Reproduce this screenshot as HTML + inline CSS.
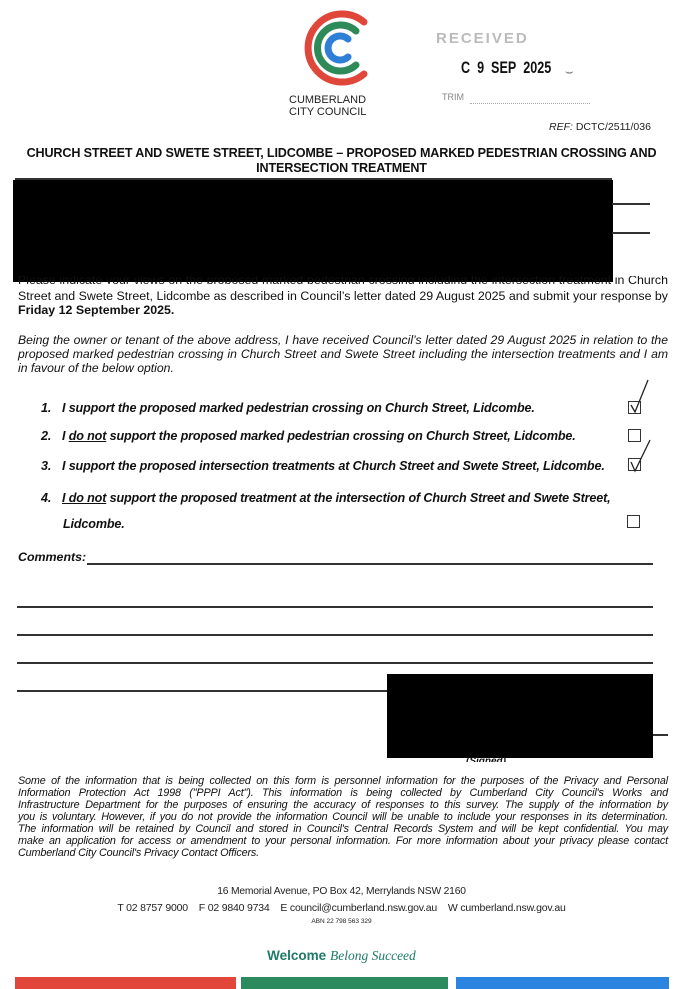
<!DOCTYPE html>
<html><head><meta charset="utf-8">
<style>
html,body{margin:0;padding:0;background:#fff;}
body{width:683px;height:989px;position:relative;overflow:hidden;font-family:"Liberation Sans",Arial,sans-serif;color:#111;}
.a{position:absolute;white-space:nowrap;}
.ln{position:absolute;height:1.5px;background:#333;}
.bi{font-weight:bold;font-style:italic;font-size:12.6px;letter-spacing:-0.15px;}
.cb{position:absolute;width:11px;height:11px;border:1.3px solid #333;}
.j{position:absolute;left:18px;width:650px;white-space:nowrap;text-align:justify;text-align-last:justify;}
.p1{font-size:12.4px;}
.p2{font-size:12.2px;font-style:italic;}
.pv{font-size:10.8px;font-style:italic;letter-spacing:-0.15px;}
</style></head><body>

<svg class="a" style="left:290px;top:6px" width="90" height="85" viewBox="0 0 90 85">
  <path d="M74 68 A34 34 0 1 1 74 16" fill="none" stroke="#e0473a" stroke-width="7" stroke-linecap="round"/>
  <path d="M66 59 A23 23 0 1 1 66 25" fill="none" stroke="#2e8a58" stroke-width="7" stroke-linecap="round"/>
  <path d="M58 51 A12 12 0 1 1 58 33" fill="none" stroke="#2f7fd6" stroke-width="7" stroke-linecap="round"/>
</svg>
<div class="a" style="left:289px;top:95px;font-size:11px;line-height:11.5px;color:#222">CUMBERLAND<br>CITY COUNCIL</div>

<div class="a" style="left:436px;top:30px;font-size:15px;font-weight:bold;color:#bbb;letter-spacing:2px">RECEIVED</div>
<div class="a" style="left:461px;top:58px;font-size:17px;font-weight:bold;color:#111;transform:scaleX(0.74);transform-origin:left">C&nbsp; 9&nbsp; SEP&nbsp; 2025</div>
<div class="a" style="left:565px;top:64px;font-size:13px;color:#666">&#x2323;</div>
<div class="a" style="left:442px;top:92px;font-size:9px;color:#888">TRIM</div>
<div class="a" style="left:470px;top:103px;width:120px;border-top:1px dotted #aaa"></div>
<div class="a" style="left:549px;top:121px;font-size:10.5px;color:#222"><i>REF:</i> DCTC/2511/036</div>

<div class="a" style="left:0;width:683px;top:146px;text-align:center;font-size:12.6px;font-weight:bold;line-height:15px;letter-spacing:-0.15px">CHURCH STREET AND SWETE STREET, LIDCOMBE – PROPOSED MARKED PEDESTRIAN CROSSING AND<br>INTERSECTION TREATMENT</div>
<div class="ln" style="left:15px;top:178px;width:597px"></div>

<div class="a" style="left:13px;top:180px;width:600px;height:102px;background:#000"></div>
<div class="ln" style="left:612px;top:203px;width:38px"></div>
<div class="ln" style="left:612px;top:232px;width:38px"></div>

<div style="position:absolute;left:0;top:276px;width:683px;height:8px;overflow:hidden"><div class="j p1" style="top:-3px">Please indicate your views on the proposed marked pedestrian crossing including the intersection treatment in Church</div></div>
<div class="j p1" style="top:289px">Street and Swete Street, Lidcombe as described in Council’s letter dated 29 August 2025 and submit your response by</div>
<div class="a p1" style="left:18px;top:303px;font-weight:bold">Friday 12 September 2025.</div>

<div class="j p2" style="top:333px">Being the owner or tenant of the above address, I have received Council’s letter dated 29 August 2025 in relation to the</div>
<div class="j p2" style="top:347px">proposed marked pedestrian crossing in Church Street and Swete Street including the intersection treatments and I am</div>
<div class="a p2" style="left:18px;top:361px">in favour of the below option.</div>

<div class="a bi" style="left:41px;top:401px">1.</div><div class="a bi" style="left:62px;top:401px">I support the proposed marked pedestrian crossing on Church Street, Lidcombe.</div>
<div class="a bi" style="left:41px;top:429px">2.</div><div class="a bi" style="left:62px;top:429px">I <u>do not</u> support the proposed marked pedestrian crossing on Church Street, Lidcombe.</div>
<div class="a bi" style="left:41px;top:459px">3.</div><div class="a bi" style="left:62px;top:459px">I support the proposed intersection treatments at Church Street and Swete Street, Lidcombe.</div>
<div class="a bi" style="left:41px;top:491px">4.</div><div class="a bi" style="left:62px;top:491px"><u>I do not</u> support the proposed treatment at the intersection of Church Street and Swete Street,</div>
<div class="a bi" style="left:63px;top:517px">Lidcombe.</div>

<div class="cb" style="left:628px;top:401px"></div>
<div class="cb" style="left:628px;top:429px"></div>
<div class="cb" style="left:628px;top:458px"></div>
<div class="cb" style="left:627px;top:515px"></div>
<svg class="a" style="left:620px;top:378px" width="40" height="110" viewBox="0 0 40 110">
  <path d="M11 27 L15 34 L28 2" fill="none" stroke="#222" stroke-width="1.3"/>
  <path d="M11 84 L15 93 L30 62" fill="none" stroke="#222" stroke-width="1.3"/>
</svg>

<div class="a" style="left:18px;top:550px;font-size:12.4px;font-weight:bold;font-style:italic">Comments:</div>
<div class="ln" style="left:87px;top:563px;width:566px"></div>
<div class="ln" style="left:17px;top:606px;width:636px"></div>
<div class="ln" style="left:17px;top:634px;width:636px"></div>
<div class="ln" style="left:17px;top:662px;width:636px"></div>
<div class="ln" style="left:17px;top:690px;width:370px"></div>
<div class="ln" style="left:387px;top:734px;width:281px"></div>
<div class="a" style="left:387px;top:674px;width:266px;height:84px;background:#000"></div>
<div class="a" style="left:466px;top:756px;font-size:10px;font-weight:bold;font-style:italic;height:6px;overflow:hidden">(Signed)</div>

<div class="j pv" style="top:775px">Some of the information that is being collected on this form is personnel information for the purposes of the Privacy and Personal</div>
<div class="j pv" style="top:787px">Information Protection Act 1998 ("PPPI Act"). This information is being collected by Cumberland City Council's Works and</div>
<div class="j pv" style="top:799px">Infrastructure Department for the purposes of ensuring the accuracy of responses to this survey. The supply of the information by</div>
<div class="j pv" style="top:811px">you is voluntary. However, if you do not provide the information Council will be unable to include your responses in its determination.</div>
<div class="j pv" style="top:823px">The information will be retained by Council and stored in Council's Central Records System and will be kept confidential. You may</div>
<div class="j pv" style="top:835px">make an application for access or amendment to your personal information. For more information about your privacy please contact</div>
<div class="a pv" style="left:18px;top:847px">Cumberland City Council's Privacy Contact Officers.</div>

<div class="a" style="left:0;width:683px;top:886px;text-align:center;font-size:10.3px;color:#222;letter-spacing:-0.2px">16 Memorial Avenue, PO Box 42, Merrylands NSW 2160</div>
<div class="a" style="left:0;width:683px;top:902px;text-align:center;font-size:10.5px;color:#222;letter-spacing:-0.2px">T 02 8757 9000&nbsp;&nbsp;&nbsp; F 02 9840 9734&nbsp;&nbsp;&nbsp; E council@cumberland.nsw.gov.au&nbsp;&nbsp;&nbsp; W cumberland.nsw.gov.au</div>
<div class="a" style="left:0;width:683px;top:918px;text-align:center;font-size:6.5px;color:#222">ABN 22 798 563 329</div>
<div class="a" style="left:0;width:683px;top:948px;text-align:center;font-size:13.5px;color:#1f7a68"><b>Welcome</b> <i style="font-family:'Liberation Serif',serif">Belong Succeed</i></div>

<div class="a" style="left:15px;top:977px;width:221px;height:12px;background:#e2453a"></div>
<div class="a" style="left:241px;top:977px;width:207px;height:12px;background:#2b8a5e"></div>
<div class="a" style="left:456px;top:977px;width:213px;height:12px;background:#2a84e0"></div>
</body></html>
